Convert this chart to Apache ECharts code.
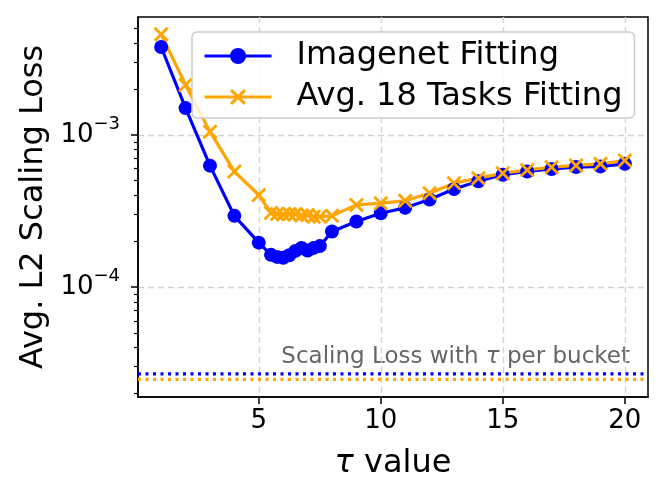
<!DOCTYPE html>
<html><head><meta charset="utf-8">
<script src="https://cdn.jsdelivr.net/npm/echarts@6/dist/echarts.min.js"></script>
<style>html,body{margin:0;padding:0;background:#fff}#c{width:665px;height:500px}</style>
</head><body><div id="c"></div>
<script>
// ---- data ----
const tau = [1, 2, 3, 4, 5, 5.5, 5.75, 6, 6.25, 6.5, 6.75, 7, 7.25, 7.5, 8, 9, 10, 11, 12, 13, 14, 15, 16, 17, 18, 19, 20];
const imagenetLoss = [3.78e-3, 1.50e-3, 6.28e-4, 2.94e-4, 1.96e-4, 1.63e-4, 1.58e-4, 1.56e-4, 1.62e-4, 1.73e-4, 1.81e-4, 1.74e-4, 1.81e-4, 1.86e-4, 2.32e-4, 2.70e-4, 3.06e-4, 3.32e-4, 3.76e-4, 4.41e-4, 4.96e-4, 5.48e-4, 5.75e-4, 5.97e-4, 6.15e-4, 6.21e-4, 6.46e-4];
const avg18Loss = [4.58e-3, 2.13e-3, 1.05e-3, 5.74e-4, 4.03e-4, 3.07e-4, 3.02e-4, 3.00e-4, 3.02e-4, 3.02e-4, 2.95e-4, 2.98e-4, 2.90e-4, 2.90e-4, 2.94e-4, 3.47e-4, 3.56e-4, 3.69e-4, 4.14e-4, 4.82e-4, 5.20e-4, 5.60e-4, 5.89e-4, 6.13e-4, 6.30e-4, 6.46e-4, 6.78e-4];
const imagenetBucketLoss = 2.69e-5;
const avg18BucketLoss = 2.48e-5;
const seriesNames = ['Imagenet Fitting', 'Avg. 18 Tasks Fitting'];
const xTicks = [5, 10, 15, 20];
const yMajorTicks = [1e-4, 1e-3];
const yMinorTicks = [2e-5, 3e-5, 4e-5, 5e-5, 6e-5, 7e-5, 8e-5, 9e-5,
  2e-4, 3e-4, 4e-4, 5e-4, 6e-4, 7e-4, 8e-4, 9e-4,
  2e-3, 3e-3, 4e-3, 5e-3];
const xRange = [0.05, 20.95];
const yRange = [1.897e-5, 5.954e-3];

// ---- chart ----
const FONT = 'DejaVu Sans';
const xMarker = 'path://M0,1.6L1.6,0L6,4.4L10.4,0L12,1.6L7.6,6L12,10.4L10.4,12L6,7.6L1.6,12L0,10.4L4.4,6Z';
const chart = echarts.init(document.getElementById('c'), null, {renderer: 'canvas'});
const gridLine = {show: true, lineStyle: {color: '#d4d4d4', type: [6, 4], width: 1.4}};
const bucketLine = (name, value, color) => ({
  name: name, type: 'line', yAxisIndex: 0, silent: true,
  data: [[xRange[0], value], [xRange[1], value]],
  symbol: 'none', color: color,
  lineStyle: {color: color, type: [3, 4.5], width: 3.2, cap: 'butt'}, z: 1
});
const option = {
  animation: false,
  backgroundColor: '#fff',
  textStyle: {fontFamily: FONT},
  grid: {left: 138, right: 17, top: 17, bottom: 103, containLabel: false, outerBoundsMode: 'none',
    show: true, borderColor: '#000', borderWidth: 1.5, backgroundColor: 'transparent'},
  legend: {
    orient: 'vertical', left: 192, top: 32,
    data: seriesNames,
    itemWidth: 67, itemHeight: 20, itemGap: 9,
    padding: [8, 12, 5, 11],
    lineStyle: {width: 3},
    backgroundColor: 'rgba(255,255,255,0.8)',
    borderColor: '#cccccc', borderWidth: 1.5, borderRadius: 5,
    textStyle: {fontSize: 32, color: '#000', fontFamily: FONT, padding: [0, 0, 0, 20]}
  },
  xAxis: {
    type: 'value', min: xRange[0], max: xRange[1],
    name: '{i|τ} value', nameLocation: 'middle', nameGap: 51,
    nameTextStyle: {fontSize: 32, color: '#000', fontFamily: FONT,
      rich: {i: {fontSize: 32, fontStyle: 'italic', fontFamily: FONT, color: '#000'}}},
    axisLine: {show: true, lineStyle: {color: '#000', width: 1.5}},
    axisTick: {show: true, length: 7, lineStyle: {color: '#000', width: 1.5}, customValues: xTicks},
    axisLabel: {fontSize: 26, color: '#000', margin: 11, customValues: xTicks, fontFamily: FONT},
    splitLine: gridLine
  },
  yAxis: [{
    type: 'log', logBase: 10, min: yRange[0], max: yRange[1], position: 'left',
    name: 'Avg. L2 Scaling Loss', nameLocation: 'middle', nameGap: 84, nameRotate: 90,
    nameTextStyle: {fontSize: 32, color: '#000', fontFamily: FONT},
    axisLine: {show: true, lineStyle: {color: '#000', width: 1.5}},
    axisTick: {show: true, length: 7, lineStyle: {color: '#000', width: 1.5}, customValues: yMajorTicks},
    axisLabel: {
      customValues: yMajorTicks, margin: 18, color: '#000',
      formatter: v => '{b|10}{s|−' + Math.abs(Math.round(Math.log10(v))) + '}',
      rich: {b: {fontSize: 26, fontFamily: FONT, color: '#000'},
             s: {fontSize: 18, fontFamily: FONT, color: '#000', padding: [0, 0, 22, 0]}}
    },
    splitLine: gridLine
  }, {
    type: 'log', logBase: 10, min: yRange[0], max: yRange[1], position: 'left',
    axisLine: {show: false},
    axisTick: {show: true, length: 4, lineStyle: {color: '#000', width: 1.2}, customValues: yMinorTicks},
    axisLabel: {show: false},
    splitLine: {show: false}
  }],
  graphic: [{
    type: 'text', right: 35, top: 346,
    style: {text: 'Scaling Loss with {i|τ} per bucket', fontSize: 23, fill: '#666666', fontFamily: FONT,
      rich: {i: {fontSize: 23, fontStyle: 'italic', fill: '#666666', fontFamily: FONT}}}
  }],
  series: [{
    name: seriesNames[0], type: 'line', yAxisIndex: 0,
    data: tau.map((t, i) => [t, imagenetLoss[i]]),
    color: '#0000ff', symbol: 'circle', symbolSize: 14,
    lineStyle: {width: 3.2, color: '#0000ff'}, itemStyle: {color: '#0000ff'}
  }, {
    name: seriesNames[1], type: 'line', yAxisIndex: 0,
    data: tau.map((t, i) => [t, avg18Loss[i]]),
    color: '#ffa500', symbol: xMarker, symbolSize: 15,
    lineStyle: {width: 3.2, color: '#ffa500'}, itemStyle: {color: '#ffa500'}
  },
  bucketLine('Imagenet bucket', imagenetBucketLoss, '#0000ff'),
  bucketLine('Avg. 18 bucket', avg18BucketLoss, '#ffa500')]
};
chart.setOption(option);
</script>
</body></html>
